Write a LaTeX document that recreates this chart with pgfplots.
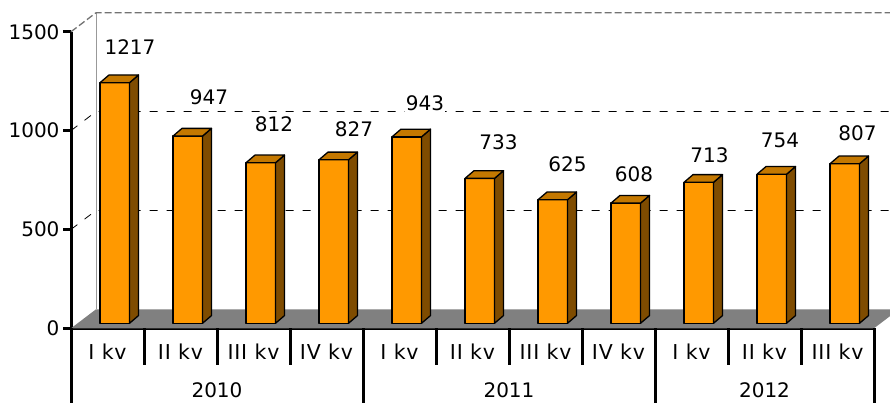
\documentclass[border=0pt]{standalone}
\usepackage{pgfplots}
\pgfplotsset{compat=1.18}
\usepackage{fontspec}
\setmainfont{DejaVu Sans}
\usetikzlibrary{calc}
\pgfdeclareplotmark{nothing}{}
\definecolor{barfront}{HTML}{FF9900}
\definecolor{barside}{HTML}{7F4C00}
\definecolor{bartop}{HTML}{C47800}
\definecolor{floorgray}{HTML}{808080}
\newcommand{\lblfont}{\fontsize{20}{24}\selectfont}
\newcommand{\catfont}{\fontsize{20.5}{24}\selectfont\addfontfeatures{LetterSpace=4}}

\begin{document}
\begin{tikzpicture}
\path[use as bounding box] (0,0) rectangle (890pt,402pt);
\begin{axis}[
  at={(107.5pt,73.7pt)}, anchor=origin,
  x=73pt, y=0.1977pt,
  xmin=-0.5, xmax=10.5, ymin=0, ymax=1500,
  clip=false,
  axis x line*=bottom, axis y line*=left,
  axis line style={line width=3pt, -},
  xtick={0,...,10},
  xticklabels={I kv,II kv,III kv,IV kv,I kv,II kv,III kv,IV kv,I kv,II kv,III kv},
  ytick={0,500,1000,1500},
  x tick style={draw=none},
  y tick style={line width=2.5pt, black},
  major tick length=8pt, tick align=outside,
  yticklabel style={font=\lblfont},
  xticklabel style={font=\catfont, anchor=center, yshift=-15pt},
  /pgf/number format/assume math mode=true,
  /pgf/number format/1000 sep={},
]
% floor
\fill[floorgray] (axis cs:-0.5,0) -- (axis cs:10.5,0) -- ++(25pt,19pt) -- ++(-803pt,0pt) -- cycle;
% back wall
\draw[black!40, line width=0.8pt] ($(axis cs:-0.5,0)+(25pt,19pt)$) -- ($(axis cs:-0.5,1500)+(25pt,19pt)$);
\draw[black!55, line width=1.3pt, dash pattern=on 7pt off 3pt] (axis cs:-0.5,1500) -- ++(25pt,19pt) -- ($(axis cs:10.5,1500)+(25pt,19pt)$);
\pgfplotsinvokeforeach{500,1000}{
  \draw[black, line width=0.8pt, dash pattern=on 8pt off 9pt] (axis cs:-0.5,#1) -- ++(25pt,19pt) -- ($(axis cs:10.5,#1)+(25pt,19pt)$);
}
% 3D bars with data labels (lx/ly = label offset in pt from the bar's data point)
\addplot[scatter, only marks, mark=nothing,
  visualization depends on={value \thisrow{y} \as \ry},
  visualization depends on={value \thisrow{lx} \as \lxx},
  visualization depends on={value \thisrow{ly} \as \lyy},
  scatter/@pre marker code/.code={%
    \pgfmathsetmacro\hh{\ry*0.1977}%
    \pgfmathsetmacro\yb{5-\hh}%
    \pgfmathsetmacro\ybb{12.7-\hh}%
    \filldraw[fill=barfront, draw=black, line width=1.3pt, line join=round] (-7.5pt,\yb pt) rectangle (22pt,5pt);
    \filldraw[fill=barside, draw=black, line width=1.3pt, line join=round] (22pt,\yb pt) -- (31pt,\ybb pt) -- (31pt,12.7pt) -- (22pt,5pt) -- cycle;
    \filldraw[fill=bartop, draw=black, line width=1.3pt, line join=round] (-7.5pt,5pt) -- (22pt,5pt) -- (31pt,12.7pt) -- (1.5pt,12.7pt) -- cycle;
    \node[fill=white, inner sep=1pt, font=\lblfont] at (\lxx pt,\lyy pt) {\ry};
  },
  scatter/@post marker code/.code={},
] table[x=x, y=y] {
x y lx ly
0 1217 22.5 40.6
1 947 28.5 44
2 812 20.5 44
3 827 27.5 36
4 943 25.5 38.5
5 733 26 41
6 625 22 41
7 608 15.5 34
8 713 18 32
9 754 15.5 39
10 807 20 36
};
% category separators
\pgfplotsinvokeforeach{0.5,1.5,2.5,4.5,5.5,6.5,8.5,9.5}{
  \draw[line width=3pt] (axis cs:#1,0) -- ++(0pt,-37pt);
}
\pgfplotsinvokeforeach{-0.5,3.5,7.5,10.5}{
  \draw[line width=3pt] (axis cs:#1,0) -- ++(0pt,-80pt);
}
\node[font=\lblfont] at ($(axis cs:1.5,0)+(0pt,-62pt)$) {2010};
\node[font=\lblfont] at ($(axis cs:5.5,0)+(0pt,-62pt)$) {2011};
\node[font=\lblfont] at ($(axis cs:9,0)+(0pt,-62pt)$) {2012};
\end{axis}
\end{tikzpicture}
\end{document}
